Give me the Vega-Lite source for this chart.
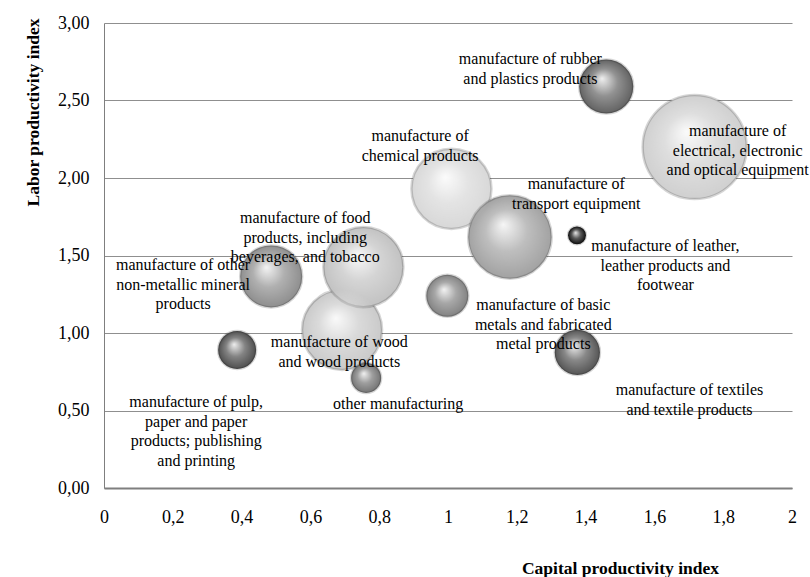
{
  "$schema": "https://vega.github.io/schema/vega-lite/v6.json",
  "width": 688,
  "height": 465,
  "autosize": "none",
  "padding": {"left": 104, "top": 23, "right": 18, "bottom": 89},
  "background": "white",
  "config": {
    "font": "Liberation Serif",
    "view": {"stroke": null},
    "axis": {"labelFont": "Liberation Serif", "titleFont": "Liberation Serif", "labelColor": "black", "titleColor": "black"}
  },
  "data": {
    "values": [
      {"name": "wood", "x": 0.692, "y": 1.02, "w": 16.0, "label": ["manufacture of wood", "and wood products"], "lx": 0.684, "ly": 0.94},
      {"name": "food", "x": 0.754, "y": 1.425, "w": 16.0, "label": ["manufacture of food", "products, including", "beverages, and tobacco"], "lx": 0.585, "ly": 1.74},
      {"name": "nonmetal", "x": 0.486, "y": 1.365, "w": 9.6, "label": ["manufacture of other", "non-metallic mineral", "products"], "lx": 0.23, "ly": 1.437},
      {"name": "pulp", "x": 0.387, "y": 0.89, "w": 3.6, "label": ["manufacture of pulp,", "paper and paper", "products; publishing", "and printing"], "lx": 0.268, "ly": 0.553},
      {"name": "other", "x": 0.762, "y": 0.71, "w": 2.25, "label": ["other manufacturing"], "lx": 0.855, "ly": 0.54},
      {"name": "chemical", "x": 1.01, "y": 1.93, "w": 16.0, "label": ["manufacture of", "chemical products"], "lx": 0.919, "ly": 2.269},
      {"name": "transport", "x": 1.18, "y": 1.62, "w": 17.4, "label": ["manufacture of", "transport equipment"], "lx": 1.373, "ly": 1.959},
      {"name": "basic", "x": 0.998, "y": 1.24, "w": 4.4, "label": ["manufacture of basic", "metals and fabricated", "metal products"], "lx": 1.277, "ly": 1.179},
      {"name": "leather", "x": 1.375, "y": 1.63, "w": 0.8, "label": ["manufacture of leather,", "leather products and", "footwear"], "lx": 1.632, "ly": 1.559},
      {"name": "textile", "x": 1.376, "y": 0.875, "w": 5.1, "label": ["manufacture of textiles", "and textile products"], "lx": 1.702, "ly": 0.63},
      {"name": "rubber", "x": 1.46, "y": 2.59, "w": 7.3, "label": ["manufacture of rubber", "and plastics products"], "lx": 1.2395, "ly": 2.766},
      {"name": "electrical", "x": 1.717, "y": 2.2, "w": 27.0, "label": ["manufacture of", "electrical, electronic", "and optical equipment"], "lx": 1.842, "ly": 2.301}
    ]
  },
  "layer": [
    {
      "mark": {"type": "point", "filled": true, "opacity": 1, "shape": "circle", "stroke": "rgba(0,0,0,0.16)", "strokeWidth": 2.5},
      "encoding": {
        "x": {
          "field": "x", "type": "quantitative",
          "scale": {"domain": [0, 2], "nice": false, "zero": true},
          "axis": {
            "title": "Capital productivity index",
            "titleFontSize": 17.5, "titleFontWeight": "bold",
            "titleX": 516, "titleY": 85, "titleBaseline": "alphabetic", "titleAlign": "center", "titleAnchor": null,
            "values": [0, 0.2, 0.4, 0.6, 0.8, 1, 1.2, 1.4, 1.6, 1.8, 2],
            "labelExpr": "replace(format(datum.value, '.1~f'), '.', ',')",
            "labelFontSize": 18, "labelPadding": 20, "ticks": false, "tickSize": 0,
            "grid": false, "domainColor": "#7f7f7f", "domainWidth": 2, "labelFlush": false
          }
        },
        "y": {
          "field": "y", "type": "quantitative",
          "scale": {"domain": [0, 3], "nice": false},
          "axis": {
            "title": "Labor productivity index",
            "titleFontSize": 17.5, "titleFontWeight": "bold",
            "titleX": -66, "titleY": 89, "titleBaseline": "alphabetic", "titleAlign": "center", "titleAngle": -90,
            "values": [0, 0.5, 1, 1.5, 2, 2.5, 3],
            "labelExpr": "replace(format(datum.value, '.2f'), '.', ',')",
            "labelFontSize": 18, "labelPadding": 15, "ticks": false, "tickSize": 0,
            "grid": true, "gridColor": "#8f8f8f", "gridWidth": 1,
            "domainColor": "#7f7f7f", "domainWidth": 1, "labelFlush": false
          }
        },
        "size": {"field": "w", "type": "quantitative", "scale": {"domain": [0, 27], "range": [0, 10816], "zero": true}, "legend": null},
        "color": {
          "field": "name", "type": "nominal", "legend": null,
          "scale": {
            "domain": ["wood", "food", "nonmetal", "pulp", "other", "chemical", "transport", "basic", "leather", "textile", "rubber", "electrical"],
            "range": ["#cacaca", "#c2c2c2", "#8e8e8e", "#4e4e4e", "#747474", "#d8d8d8", "#a2a2a2", "#828282", "#111111", "#555555", "#626262", "#d0d0d0"]
          }
        }
      }
    },
    {
      "mark": {
        "type": "point", "filled": true, "shape": "circle", "opacity": 1,
        "fill": {
          "gradient": "radial",
          "x1": 0.42, "y1": 0.35, "r1": 0,
          "x2": 0.5, "y2": 0.5, "r2": 0.5,
          "stops": [
            {"offset": 0, "color": "rgba(255,255,255,0.9)"},
            {"offset": 0.5, "color": "rgba(255,255,255,0.3)"},
            {"offset": 1, "color": "rgba(255,255,255,0)"}
          ]
        }
      },
      "encoding": {
        "x": {"field": "x", "type": "quantitative"},
        "y": {"field": "y", "type": "quantitative"},
        "size": {"field": "w", "type": "quantitative", "legend": null}
      }
    },
    {
      "mark": {"type": "text", "font": "Liberation Serif", "fontSize": 16, "lineHeight": 19.5, "align": "center", "baseline": "middle", "color": "black"},
      "encoding": {
        "x": {"field": "lx", "type": "quantitative"},
        "y": {"field": "ly", "type": "quantitative"},
        "text": {"field": "label"}
      }
    }
  ]
}
